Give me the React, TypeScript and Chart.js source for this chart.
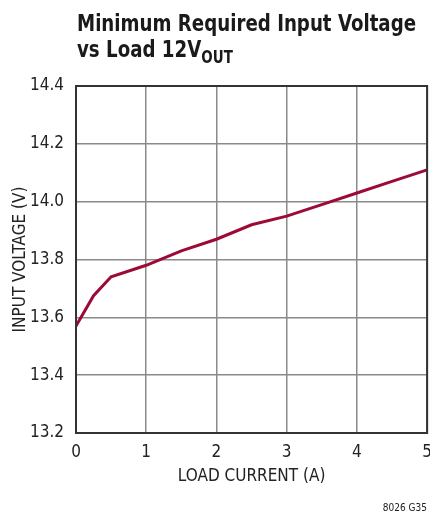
import React, { useEffect, useRef } from "react";
import { Chart, registerables } from "chart.js";

Chart.register(...registerables);

const loadCurrent = [0, 0.25, 0.5, 1, 1.5, 2, 2.5, 3, 3.5, 4, 4.5, 5];
const inputVoltage = [13.57, 13.675, 13.74, 13.78, 13.83, 13.87, 13.92, 13.95, 13.99, 14.03, 14.07, 14.11];
const xTicks = [0, 1, 2, 3, 4, 5];
const yTicks = [13.2, 13.4, 13.6, 13.8, 14.0, 14.2, 14.4];

const FONT = "'Liberation Sans Narrow', 'DejaVu Sans Condensed', 'Arial Narrow', sans-serif";

const frame = {
  id: "frame",
  afterDatasetsDraw(chart: any) {
    const { ctx, chartArea: a } = chart;
    ctx.save();
    ctx.strokeStyle = "#333";
    ctx.lineWidth = 2;
    ctx.strokeRect(a.left, a.top, a.right - a.left, a.bottom - a.top);
    ctx.restore();
  },
};

export default function App() {
  const ref = useRef<HTMLCanvasElement>(null);
  useEffect(() => {
    if (!ref.current) return;
    const chart = new Chart(ref.current, {
      type: "line",
      data: {
        datasets: [
          {
            data: loadCurrent.map((x, i) => ({ x, y: inputVoltage[i] })),
            borderColor: "#9c0a35",
            borderWidth: 3,
            pointRadius: 0,
            tension: 0,
            fill: false,
          },
        ],
      },
      options: {
        animation: false,
        responsive: false,
        layout: { padding: { left: 10, right: 3, top: 86, bottom: 30 } },
        plugins: { legend: { display: false }, tooltip: { enabled: false }, title: { display: false } },
        scales: {
          x: {
            type: "linear",
            min: 0,
            max: 5,
            afterBuildTicks: (s: any) => { s.ticks = xTicks.map((v) => ({ value: v })); },
            afterFit: (s: any) => { s.height = 54; },
            grid: { color: "#8a8a8a", lineWidth: 1.5, drawTicks: false },
            border: { display: false },
            ticks: { color: "#222", font: { family: FONT, size: 17 }, padding: 9, maxRotation: 0, callback: (v: any) => String(v) },
            title: { display: true, text: "LOAD CURRENT (A)", color: "#222", font: { family: FONT, size: 17 }, padding: { top: 2, bottom: 0 } },
          },
          y: {
            type: "linear",
            min: 13.2,
            max: 14.4,
            afterBuildTicks: (s: any) => { s.ticks = yTicks.map((v) => ({ value: v })); },
            afterFit: (s: any) => { s.width = 66; },
            grid: { color: "#8a8a8a", lineWidth: 1.5, drawTicks: false },
            border: { display: false },
            ticks: { color: "#222", font: { family: FONT, size: 17 }, padding: 12, callback: (v: any) => Number(v).toFixed(1) },
            title: { display: true, text: "INPUT VOLTAGE (V)", color: "#222", font: { family: FONT, size: 17 }, padding: { top: 0, bottom: 4 } },
          },
        },
      },
      plugins: [frame],
    });
    return () => chart.destroy();
  }, []);

  return (
    <div style={{ position: "fixed", left: 0, top: 0, width: 430, height: 517, background: "#fff", overflow: "hidden" }}>
      <canvas ref={ref} width={441} height={517} style={{ position: "absolute", left: 0, top: 0 }} />
      <div
        style={{
          position: "absolute",
          left: 77,
          top: 10,
          fontFamily: FONT,
          fontWeight: "bold",
          fontSize: 23,
          lineHeight: "26px",
          color: "#1a1a1a",
          whiteSpace: "nowrap",
          transform: "scaleX(0.88)",
          transformOrigin: "left top",
        }}
      >
        <div>Minimum Required Input Voltage</div>
        <div>
          vs Load 12V<span style={{ fontSize: 17, position: "relative", top: 6 }}>OUT</span>
        </div>
      </div>
      <div style={{ position: "absolute", right: 3, top: 502, fontFamily: FONT, fontSize: 10, color: "#222" }}>8026 G35</div>
    </div>
  );
}
